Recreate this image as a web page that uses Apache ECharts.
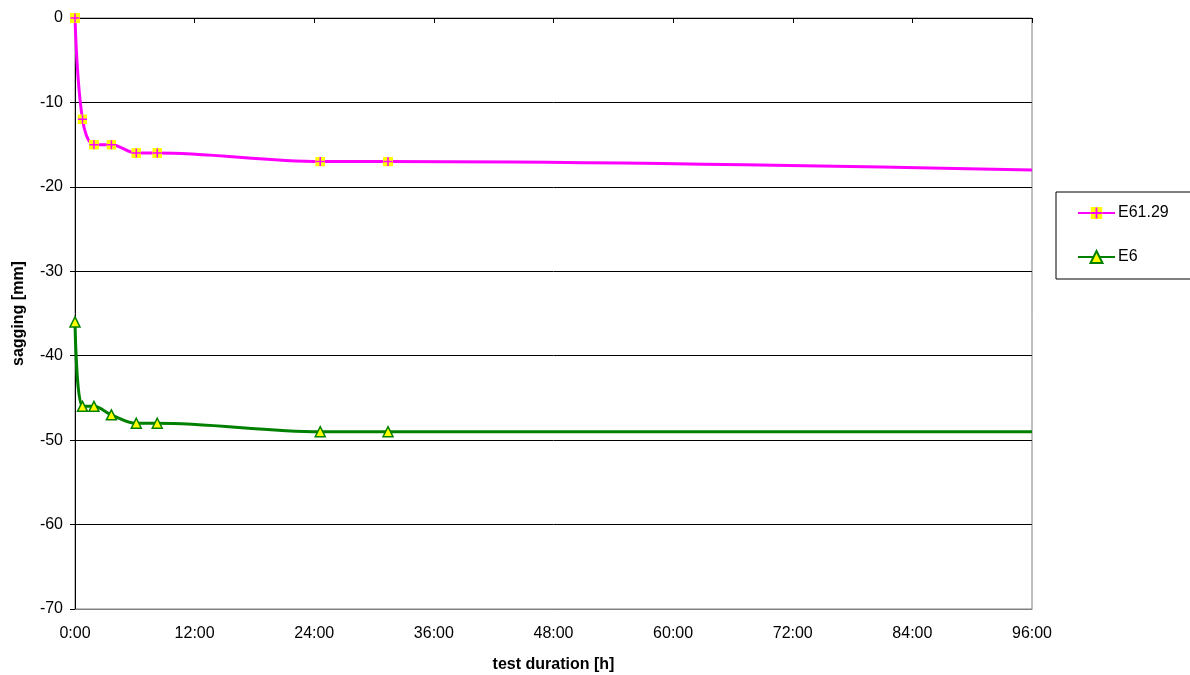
<!DOCTYPE html>
<html>
<head>
<meta charset="utf-8">
<script src="https://cdn.jsdelivr.net/npm/echarts@6/dist/echarts.min.js"></script>
<style>
html,body{margin:0;padding:0;background:#fff;}
#chart{width:1190px;height:675px;}
</style>
</head>
<body>
<div id="chart"></div>
<script>
const hours = [0, 0.75, 1.9, 3.65, 6.15, 8.25, 24.6, 31.4, 96];
const e6129 = [0, -12, -15, -15, -16, -16, -17, -17, -18];
const e6 = [-36, -46, -46, -47, -48, -48, -49, -49, -49];
const seriesNames = ['E61.29', 'E6'];
const xTicks = [0, 12, 24, 36, 48, 60, 72, 84, 96];

const crossSvg = "<svg xmlns='http://www.w3.org/2000/svg' width='20' height='20'><rect width='20' height='20' fill='#ffff00'/><path d='M10 1V19M1 10H19' stroke='#ff00ff' stroke-width='3'/></svg>";
const crossSymbol = 'image://data:image/svg+xml;utf8,' + encodeURIComponent(crossSvg);

function build(vals) {
  return hours.map((h, i) => {
    const item = { value: [h, vals[i]] };
    if (i === hours.length - 1) item.symbol = 'none';
    return item;
  });
}

const font = 'Liberation Sans, Arial, sans-serif';
const chart = echarts.init(document.getElementById('chart'));
chart.setOption({
  animation: false,
  textStyle: { fontFamily: font },
  grid: { left: 75, right: 158, top: 18, bottom: 66, show: true, borderColor: '#808080', borderWidth: 1, outerBoundsMode: 'none', containLabel: false },
  legend: {
    orient: 'vertical', left: 1056, top: 192,
    padding: [13, 60, 14, 21], itemGap: 28, itemWidth: 37, itemHeight: 15,
    borderColor: '#000', borderWidth: 1,
    textStyle: { fontSize: 16, color: '#000', fontFamily: font, padding: [0, 0, 0, -2] },
    data: seriesNames
  },
  xAxis: [{
    type: 'value', min: 0, max: 96, interval: 12, position: 'bottom',
    name: 'test duration [h]', nameLocation: 'middle', nameGap: 48,
    nameTextStyle: { fontSize: 16, fontWeight: 'bold', color: '#000' },
    axisLine: { show: true, onZero: false, lineStyle: { color: '#808080' } },
    axisTick: { show: false },
    axisLabel: { fontSize: 16, color: '#000', margin: 17, formatter: v => xTicks.includes(v) ? v + ':00' : '' },
    splitLine: { show: false }
  }, {
    type: 'value', min: 0, max: 96, interval: 12, position: 'top',
    axisLine: { show: true, onZero: false, lineStyle: { color: '#000' } },
    axisTick: { show: true, inside: true, length: 5, lineStyle: { color: '#000' } },
    axisLabel: { show: false },
    splitLine: { show: false }
  }],
  yAxis: {
    type: 'value', min: -70, max: 0, interval: 10,
    name: 'sagging [mm]', nameLocation: 'middle', nameGap: 48,
    nameTextStyle: { fontSize: 16, fontWeight: 'bold', color: '#000' },
    axisLine: { show: true, onZero: false, lineStyle: { color: '#000' } },
    axisTick: { show: true, length: 5, lineStyle: { color: '#000' } },
    axisLabel: { fontSize: 16, color: '#000', margin: 12, padding: [2, 0, 0, 0] },
    splitLine: { show: true, lineStyle: { color: '#000', width: 1 } }
  },
  series: [{
    name: seriesNames[0], type: 'line', xAxisIndex: 0, smooth: 0.35,
    data: build(e6129),
    symbol: crossSymbol, symbolSize: 10,
    lineStyle: { color: '#ff00ff', width: 3 },
    itemStyle: { color: '#ff00ff' },
    z: 3
  }, {
    name: seriesNames[1], type: 'line', xAxisIndex: 0, smooth: 0.35,
    data: build(e6),
    symbol: 'triangle', symbolSize: 10,
    lineStyle: { color: '#008000', width: 3 },
    itemStyle: { color: '#ffff00', borderColor: '#008000', borderWidth: 1.5 },
    z: 3
  }]
});
</script>
</body>
</html>
